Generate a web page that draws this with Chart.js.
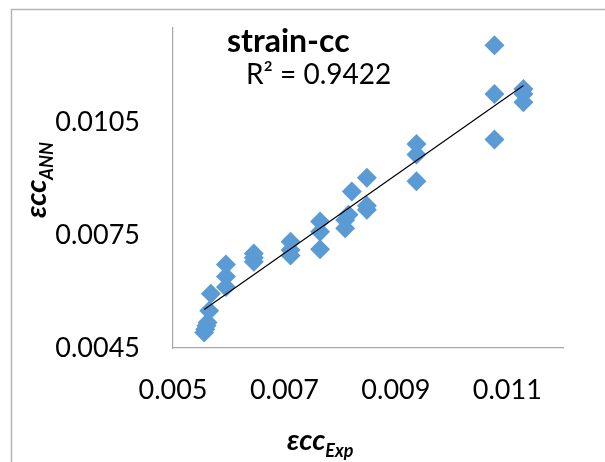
<!DOCTYPE html>
<html>
<head>
<meta charset="utf-8">
<script src="https://cdn.jsdelivr.net/npm/chart.js@4"></script>
<style>
  html, body { margin: 0; padding: 0; background: #fff; }
</style>
</head>
<body>
<canvas id="chart" width="605" height="462"></canvas>
<script>
// experimental strain (x) vs ANN predicted strain (y)
const expValues = [
  0.00556, 0.00558, 0.00560, 0.00562, 0.00565, 0.00568,
  0.00595, 0.00595, 0.00595,
  0.00645, 0.00645, 0.00645,
  0.00711, 0.00711, 0.00711,
  0.00764, 0.00764, 0.00764,
  0.00809, 0.00809, 0.00815, 0.00821,
  0.00848, 0.00848, 0.00848,
  0.00937, 0.00937, 0.00937,
  0.01077, 0.01077, 0.01077,
  0.01129, 0.01129, 0.01129
];
const annValues = [
  0.00491, 0.00500, 0.00509, 0.00518, 0.00549, 0.00594,
  0.00612, 0.00640, 0.00672,
  0.00679, 0.00690, 0.00701,
  0.00696, 0.00710, 0.00732,
  0.00712, 0.00759, 0.00786,
  0.00768, 0.00790, 0.00804, 0.00866,
  0.00817, 0.00828, 0.00902,
  0.00893, 0.00964, 0.00992,
  0.01004, 0.01125, 0.01254,
  0.01103, 0.01125, 0.01138
];
const xTicks = [0.005, 0.007, 0.009, 0.011];
const yTicks = [0.0045, 0.0075, 0.0105];
const chartTitle = 'strain-cc';
const r2Label = 'R\u00B2 = 0.9422';

const points = expValues.map((x, i) => ({ x: x, y: annValues[i] }));

// least squares trendline
function linearFit(xs, ys) {
  const n = xs.length;
  let sx = 0, sy = 0, sxx = 0, sxy = 0;
  for (let i = 0; i < n; i++) {
    sx += xs[i]; sy += ys[i];
    sxx += xs[i] * xs[i]; sxy += xs[i] * ys[i];
  }
  const slope = (n * sxy - sx * sy) / (n * sxx - sx * sx);
  const icpt = (sy - slope * sx) / n;
  return { slope, icpt };
}
const fit = linearFit(expValues, annValues);
const xMin = Math.min(...expValues), xMax = Math.max(...expValues);
const trend = [
  { x: xMin, y: fit.slope * xMin + fit.icpt },
  { x: xMax, y: fit.slope * xMax + fit.icpt }
];

const FONT = 'Lato, "Open Sans", sans-serif';

const decorPlugin = {
  id: 'decor',
  beforeDraw(chart) {
    const ctx = chart.ctx;
    ctx.save();
    ctx.strokeStyle = '#b4b4b4';
    ctx.lineWidth = 1.5;
    ctx.beginPath();
    ctx.moveTo(605, 9.5);
    ctx.lineTo(11.5, 9.5);
    ctx.lineTo(11.5, 462);
    ctx.stroke();
    ctx.restore();
  },
  afterDraw(chart) {
    const ctx = chart.ctx;
    ctx.save();
    ctx.fillStyle = '#000';
    ctx.textBaseline = 'alphabetic';

    // title and R2 inside the plot
    ctx.font = 'bold 32px ' + FONT;
    ctx.fillText(chartTitle, 227, 52);
    ctx.font = '28px ' + FONT;
    ctx.fillText(r2Label, 246, 84);

    // x axis title with subscript
    ctx.font = 'italic bold 29px ' + FONT;
    ctx.fillText('\u03B5cc', 287, 450);
    let w = ctx.measureText('\u03B5cc').width;
    ctx.font = 'italic bold 18px ' + FONT;
    ctx.fillText('Exp', 287 + w, 457);

    // y axis title, rotated
    ctx.translate(46, 218);
    ctx.rotate(-Math.PI / 2);
    ctx.font = 'italic bold 29px ' + FONT;
    ctx.fillText('\u03B5cc', 0, 0);
    w = ctx.measureText('\u03B5cc').width;
    ctx.font = 'italic bold 18px ' + FONT;
    ctx.fillText('ANN', w, 7);
    ctx.restore();
  }
};

const axisColor = '#a6a6a6';

new Chart(document.getElementById('chart').getContext('2d'), {
  type: 'scatter',
  data: {
    datasets: [
      {
        label: 'data',
        data: points,
        pointStyle: 'rectRot',
        pointRadius: 10,
        pointBorderWidth: 0,
        backgroundColor: '#5b9bd5',
        borderColor: '#5b9bd5',
        order: 2
      },
      {
        type: 'line',
        label: 'trend',
        data: trend,
        borderColor: '#000',
        borderWidth: 1.2,
        pointRadius: 0,
        fill: false,
        order: 1
      }
    ]
  },
  options: {
    responsive: false,
    animation: false,
    layout: { padding: { left: 0, top: 28, right: 42, bottom: 0 } },
    plugins: {
      legend: { display: false },
      tooltip: { enabled: false },
      title: { display: false }
    },
    scales: {
      x: {
        type: 'linear',
        min: 0.005,
        max: 0.012,
        afterBuildTicks: (scale) => { scale.ticks = xTicks.map(v => ({ value: v })); },
        afterFit: (scale) => {
          scale.height = 114;
          scale.paddingLeft = 0;
          scale.paddingRight = 0;
        },
        ticks: {
          color: '#000',
          padding: 26,
          font: { family: FONT, size: 27 },
          callback: (v) => String(v)
        },
        grid: { color: 'rgba(0,0,0,0)', drawTicks: false },
        border: { display: true, color: axisColor, width: 1.2 }
      },
      y: {
        type: 'linear',
        min: 0.0045,
        max: 0.0130,
        afterBuildTicks: (scale) => { scale.ticks = yTicks.map(v => ({ value: v })); },
        afterFit: (scale) => {
          scale.width = 173;
          scale.paddingTop = 0;
          scale.paddingBottom = 0;
        },
        ticks: {
          color: '#000',
          padding: 33,
          font: { family: FONT, size: 27 },
          callback: (v) => String(v)
        },
        grid: { color: 'rgba(0,0,0,0)', drawTicks: false },
        border: { display: true, color: axisColor, width: 1.2 }
      }
    }
  },
  plugins: [decorPlugin]
});
</script>
</body>
</html>
